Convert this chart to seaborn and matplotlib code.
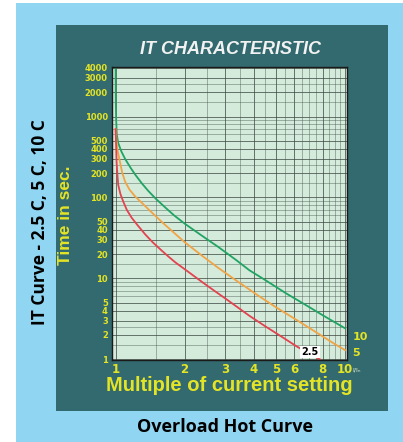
import numpy as np
import pandas as pd
import seaborn as sns
import matplotlib.pyplot as plt
from matplotlib.patches import Rectangle
from matplotlib.ticker import FixedLocator, NullFormatter

# curve data (multiple of setting -> time in s)
x_10 = [1.0, 1.002, 1.006, 1.012, 1.027, 1.06, 1.10, 1.16, 1.217, 1.3, 1.39, 1.5, 1.648,
        1.8, 2.0, 2.385, 2.8, 3.34, 3.83, 4.5, 5.55, 6.2, 7.0, 8.0, 9.0, 10.0]
t_10 = [4000, 1500, 900, 600, 470, 370, 300, 235, 192, 150, 120, 96, 75,
        60, 47.5, 33.5, 24.5, 17, 12.6, 9.5, 6.5, 5.4, 4.4, 3.5, 2.88, 2.42]

x_5 = [1.0, 1.01, 1.02, 1.045, 1.07, 1.10, 1.15, 1.217, 1.3, 1.44, 1.6, 1.82, 2.0,
       2.385, 2.8, 3.34, 4.23, 5.0, 6.0, 7.5, 9.0, 10.0]
t_5 = [700, 480, 380, 275, 200, 157, 125, 103, 86, 65, 49, 35.5, 28,
       19, 13.5, 9.5, 6.0, 4.4, 3.2, 2.15, 1.55, 1.3]

x_25 = [1.0, 1.005, 1.01, 1.02, 1.027, 1.05, 1.08, 1.12, 1.176, 1.25, 1.346, 1.45, 1.59,
        1.7, 1.82, 2.0, 2.385, 2.7, 3.02, 3.4, 3.83, 4.5, 5.36, 6.14, 7.0, 7.77]
t_25 = [700, 450, 275, 180, 143, 110, 89, 70, 56, 45, 35, 28, 22,
        18.6, 15.8, 13, 9.0, 7.0, 5.6, 4.4, 3.45, 2.55, 1.86, 1.45, 1.17, 1.0]

curve_names = ["10", "5", "2.5"]
curve_colors = ["#1fa463", "#f0a445", "#e2434f"]

x_ticks = [1, 2, 3, 4, 5, 6, 8, 10]
y_ticks = [1, 2, 3, 4, 5, 10, 20, 30, 40, 50, 100, 200, 300, 400, 500, 1000, 2000, 3000, 4000]

df = pd.concat([
    pd.DataFrame({"multiple": x_10, "time": t_10, "curve": "10"}),
    pd.DataFrame({"multiple": x_5, "time": t_5, "curve": "5"}),
    pd.DataFrame({"multiple": x_25, "time": t_25, "curve": "2.5"}),
])

yellow = "#e4e426"

fig = plt.figure(figsize=(4.03, 4.42), dpi=100)
fig.patch.set_facecolor("white")
# light blue card and dark teal panel
fig.add_artist(Rectangle((0.0397, 0), 0.9603, 0.993, transform=fig.transFigure,
                         facecolor="#90d5f1", edgecolor="none", zorder=0))
fig.add_artist(Rectangle((0.139, 0.070), 0.824, 0.873, transform=fig.transFigure,
                         facecolor="#336a6f", edgecolor="none", zorder=0))

ax = fig.add_axes([0.278, 0.1855, 0.583, 0.663])
ax.set_facecolor("#d4eadb")

sns.lineplot(data=df, x="multiple", y="time", hue="curve", hue_order=curve_names,
             palette=curve_colors, estimator=None, sort=False, legend=False,
             linewidth=1.3, ax=ax)

ax.set_xscale("log")
ax.set_yscale("log")
ax.set_xlim(0.965, 10.2)
ax.set_ylim(0.98, 4100)

ax.xaxis.set_major_locator(FixedLocator(x_ticks))
ax.set_xticklabels([str(v) for v in x_ticks])
ax.xaxis.set_minor_locator(FixedLocator(np.arange(1.5, 10, 0.5)))
ax.xaxis.set_minor_formatter(NullFormatter())
ax.yaxis.set_major_locator(FixedLocator(y_ticks))
ax.set_yticklabels([str(v) for v in y_ticks])
minor_y = [m * d for d in (1, 10, 100, 1000) for m in (1.5, 2.5, 6, 7, 8, 9)]
ax.yaxis.set_minor_locator(FixedLocator(minor_y))
ax.yaxis.set_minor_formatter(NullFormatter())

ax.grid(which="major", color="#3c4a42", linewidth=0.7, alpha=0.75)
ax.grid(which="minor", color="#3c4a42", linewidth=0.5, alpha=0.55)
ax.set_axisbelow(True)

ax.tick_params(which="both", length=0)
ax.tick_params(axis="y", pad=3, labelsize=6, labelcolor=yellow)
ax.tick_params(axis="x", pad=2, labelsize=8.5, labelcolor=yellow)
for lab in ax.get_xticklabels() + ax.get_yticklabels():
    lab.set_fontweight("bold")
for s in ax.spines.values():
    s.set_color("#1a1a1a")
    s.set_linewidth(1.0)

ax.set_xlabel("Multiple of current setting", color=yellow, fontsize=14.5,
              fontweight="bold", family="Liberation Sans", labelpad=0)
ax.set_ylabel("Time in sec.", color=yellow, fontsize=12.5,
              fontweight="bold", family="Liberation Sans")
ax.yaxis.set_label_coords(-0.166, 0.495)

# curve end labels
ax.annotate("10", xy=(x_10[-1], t_10[-1]), xytext=(15, -9), textcoords="offset pixels",
            color=yellow, fontsize=8, fontweight="bold", ha="center", va="center",
            annotation_clip=False)
ax.annotate("5", xy=(x_5[-1], t_5[-1]), xytext=(11, -3), textcoords="offset pixels",
            color=yellow, fontsize=8, fontweight="bold", ha="center", va="center",
            annotation_clip=False)
ax.annotate("2.5", xy=(x_25[-1], t_25[-1]), xytext=(-10, 7), textcoords="offset pixels",
            color="black", fontsize=7, fontweight="bold", ha="center", va="center",
            bbox=dict(facecolor="white", edgecolor="none", pad=0.8),
            annotation_clip=False)
ax.text(1.04, -0.025, "I/I\u2099", transform=ax.transAxes, color="#e8eec8",
        fontsize=4.5, ha="center", va="top")

fig.text(0.571, 0.887, "IT CHARACTERISTIC", color="#f2f2f2", fontsize=13,
         fontweight="bold", style="italic", family="Liberation Sans",
         ha="center", va="center")
fig.text(0.099, 0.497, "IT Curve - 2.5 C, 5 C, 10 C", color="black", fontsize=12.5,
         fontweight="bold", family="Open Sans", rotation=90, ha="center", va="center")
fig.text(0.559, 0.034, "Overload Hot Curve", color="black", fontsize=13,
         fontweight="bold", family="Open Sans", ha="center", va="center")

fig.savefig("out.png", dpi=100)
